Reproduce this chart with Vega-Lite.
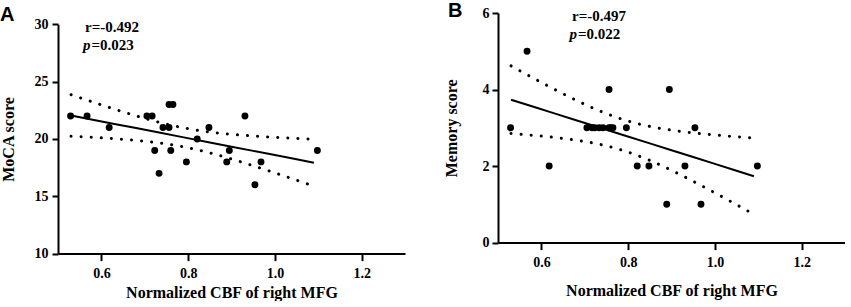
{
  "$schema": "https://vega.github.io/schema/vega-lite/v6.json",
  "background": "white",
  "padding": {"left": 0, "top": 0, "right": 0, "bottom": 0},
  "config": {
    "view": {"stroke": null},
    "axis": {
      "domainColor": "black", "domainWidth": 2, "tickColor": "black", "tickWidth": 2,
      "labelFont": "Liberation Serif", "labelFontWeight": "bold", "labelFontSize": 14, "labelColor": "black",
      "titleFont": "Liberation Serif", "titleFontWeight": "bold", "titleFontSize": 16, "titleColor": "black",
      "grid": false, "labelFlush": false
    },
    "axisX": {"tickSize": 7, "labelPadding": 6},
    "axisY": {"tickSize": 6, "labelPadding": 4, "titlePadding": 18}
  },
  "datasets": {
    "pts": [
      {"cbf": 0.529, "moca": 22, "memory": 3},
      {"cbf": 0.567, "moca": 22, "memory": 5},
      {"cbf": 0.618, "moca": 21, "memory": 2},
      {"cbf": 0.705, "moca": 22, "memory": 3},
      {"cbf": 0.717, "moca": 22, "memory": 3},
      {"cbf": 0.723, "moca": 19, "memory": 3},
      {"cbf": 0.733, "moca": 17, "memory": 3},
      {"cbf": 0.742, "moca": 21, "memory": 3},
      {"cbf": 0.756, "moca": 21, "memory": 4},
      {"cbf": 0.756, "moca": 23, "memory": 3},
      {"cbf": 0.765, "moca": 23, "memory": 3},
      {"cbf": 0.76, "moca": 19, "memory": 3},
      {"cbf": 0.796, "moca": 18, "memory": 3},
      {"cbf": 0.821, "moca": 20, "memory": 2},
      {"cbf": 0.848, "moca": 21, "memory": 2},
      {"cbf": 0.889, "moca": 18, "memory": 1},
      {"cbf": 0.895, "moca": 19, "memory": 4},
      {"cbf": 0.931, "moca": 22, "memory": 2},
      {"cbf": 0.954, "moca": 16, "memory": 3},
      {"cbf": 0.968, "moca": 18, "memory": 1},
      {"cbf": 1.098, "moca": 19, "memory": 2}
    ],
    "band": [
      {"cbf": 0.53, "mocaFit": 22.049, "mocaLo": 20.238, "mocaHi": 23.860, "memFit": 3.735, "memLo": 2.852, "memHi": 4.618},
      {"cbf": 0.58, "mocaFit": 21.681, "mocaLo": 20.140, "mocaHi": 23.222, "memFit": 3.556, "memLo": 2.804, "memHi": 4.308},
      {"cbf": 0.63, "mocaFit": 21.313, "mocaLo": 20.023, "mocaHi": 22.603, "memFit": 3.378, "memLo": 2.749, "memHi": 4.007},
      {"cbf": 0.68, "mocaFit": 20.946, "mocaLo": 19.876, "mocaHi": 22.016, "memFit": 3.199, "memLo": 2.677, "memHi": 3.721},
      {"cbf": 0.73, "mocaFit": 20.578, "mocaLo": 19.672, "mocaHi": 21.484, "memFit": 3.021, "memLo": 2.579, "memHi": 3.463},
      {"cbf": 0.79, "mocaFit": 20.136, "mocaLo": 19.308, "mocaHi": 20.964, "memFit": 2.806, "memLo": 2.402, "memHi": 3.210},
      {"cbf": 0.85, "mocaFit": 19.695, "mocaLo": 18.785, "mocaHi": 20.605, "memFit": 2.592, "memLo": 2.148, "memHi": 3.036},
      {"cbf": 0.90, "mocaFit": 19.327, "mocaLo": 18.250, "mocaHi": 20.404, "memFit": 2.414, "memLo": 1.889, "memHi": 2.939},
      {"cbf": 0.95, "mocaFit": 18.959, "mocaLo": 17.661, "mocaHi": 20.258, "memFit": 2.235, "memLo": 1.602, "memHi": 2.868},
      {"cbf": 1.00, "mocaFit": 18.592, "mocaLo": 17.041, "mocaHi": 20.143, "memFit": 2.057, "memLo": 1.301, "memHi": 2.813},
      {"cbf": 1.05, "mocaFit": 18.224, "mocaLo": 16.403, "mocaHi": 20.045, "memFit": 1.878, "memLo": 0.990, "memHi": 2.766},
      {"cbf": 1.09, "mocaFit": 17.930, "mocaLo": 15.884, "mocaHi": 19.975, "memFit": 1.735, "memLo": 0.737, "memHi": 2.733}
    ],
    "notes": [
      {"panel": "A", "cbf": 0.5623, "val": 29.74, "t": "r=-0.492", "kind": "r"},
      {"panel": "A", "cbf": 0.5577, "val": 28.17, "t": "p", "kind": "p"},
      {"panel": "A", "cbf": 0.5577, "val": 28.17, "t": "=0.023", "kind": "pv"},
      {"panel": "B", "cbf": 0.6707, "val": 5.914, "t": "r=-0.497", "kind": "r"},
      {"panel": "B", "cbf": 0.665, "val": 5.443, "t": "p", "kind": "p"},
      {"panel": "B", "cbf": 0.665, "val": 5.443, "t": "=0.022", "kind": "pv"}
    ]
  },
  "bounds": "flush",
  "spacing": 93,
  "hconcat": [
    {
      "width": 347,
      "height": 240.6,
      "title": {"text": "A", "anchor": "start", "frame": "group", "font": "Liberation Sans", "fontSize": 20, "fontWeight": "bold", "color": "black", "offset": 0, "dx": -58, "dy": 28, "baseline": "alphabetic"},
      "layer": [
        {
          "data": {"name": "pts"},
          "mark": {"type": "circle", "size": 48, "color": "black", "opacity": 1},
          "encoding": {
            "x": {"field": "cbf", "type": "quantitative", "scale": {"domain": [0.5, 1.3], "nice": false, "zero": false},
                  "axis": {"values": [0.6, 0.8, 1.0, 1.2], "format": ".1f", "title": "Normalized CBF of right MFG", "titlePadding": 4}},
            "y": {"field": "moca", "type": "quantitative", "scale": {"domain": [10, 30], "range": [240.6, 11.3], "nice": false, "zero": false},
                  "axis": {"values": [10, 15, 20, 25, 30], "title": "MoCA score"}}
          }
        },
        {
          "data": {"name": "band"},
          "mark": {"type": "line", "color": "black", "strokeWidth": 2},
          "encoding": {"x": {"field": "cbf", "type": "quantitative"}, "y": {"field": "mocaFit", "type": "quantitative"}}
        },
        {
          "data": {"name": "band"},
          "mark": {"type": "line", "color": "black", "strokeWidth": 3, "strokeCap": "round", "strokeDash": [0.1, 10], "interpolate": "monotone"},
          "encoding": {"x": {"field": "cbf", "type": "quantitative"}, "y": {"field": "mocaLo", "type": "quantitative"}}
        },
        {
          "data": {"name": "band"},
          "mark": {"type": "line", "color": "black", "strokeWidth": 3, "strokeCap": "round", "strokeDash": [0.1, 10], "interpolate": "monotone"},
          "encoding": {"x": {"field": "cbf", "type": "quantitative"}, "y": {"field": "mocaHi", "type": "quantitative"}}
        },
        {
          "data": {"name": "notes"},
          "transform": [{"filter": "datum.panel == 'A' && datum.kind == 'r'"}],
          "mark": {"type": "text", "font": "Liberation Serif", "fontSize": 15, "fontWeight": "bold", "align": "left", "baseline": "middle", "color": "black"},
          "encoding": {"x": {"field": "cbf", "type": "quantitative"}, "y": {"field": "val", "type": "quantitative"}, "text": {"field": "t"}}
        },
        {
          "data": {"name": "notes"},
          "transform": [{"filter": "datum.panel == 'A' && datum.kind == 'p'"}],
          "mark": {"type": "text", "font": "Liberation Serif", "fontSize": 15, "fontWeight": "bold", "fontStyle": "italic", "align": "left", "baseline": "middle", "color": "black"},
          "encoding": {"x": {"field": "cbf", "type": "quantitative"}, "y": {"field": "val", "type": "quantitative"}, "text": {"field": "t"}}
        },
        {
          "data": {"name": "notes"},
          "transform": [{"filter": "datum.panel == 'A' && datum.kind == 'pv'"}],
          "mark": {"type": "text", "font": "Liberation Serif", "fontSize": 15, "fontWeight": "bold", "align": "left", "baseline": "middle", "color": "black", "dx": 8.5},
          "encoding": {"x": {"field": "cbf", "type": "quantitative"}, "y": {"field": "val", "type": "quantitative"}, "text": {"field": "t"}}
        }
      ]
    },
    {
      "width": 347,
      "height": 229.6,
      "title": {"text": "B", "anchor": "start", "frame": "group", "font": "Liberation Sans", "fontSize": 20, "fontWeight": "bold", "color": "black", "offset": 0, "dx": -50, "dy": 30.6, "baseline": "alphabetic"},
      "layer": [
        {
          "data": {"name": "pts"},
          "mark": {"type": "circle", "size": 48, "color": "black", "opacity": 1},
          "encoding": {
            "x": {"field": "cbf", "type": "quantitative", "scale": {"domain": [0.5, 1.3], "nice": false, "zero": false},
                  "axis": {"values": [0.6, 0.8, 1.0, 1.2], "format": ".1f", "title": "Normalized CBF of right MFG", "titlePadding": 13}},
            "y": {"field": "memory", "type": "quantitative", "scale": {"domain": [0, 6], "nice": false, "zero": false},
                  "axis": {"values": [0, 2, 4, 6], "title": "Memory score", "labelPadding": 3, "titlePadding": 23}}
          }
        },
        {
          "data": {"name": "band"},
          "mark": {"type": "line", "color": "black", "strokeWidth": 2},
          "encoding": {"x": {"field": "cbf", "type": "quantitative"}, "y": {"field": "memFit", "type": "quantitative"}}
        },
        {
          "data": {"name": "band"},
          "mark": {"type": "line", "color": "black", "strokeWidth": 3, "strokeCap": "round", "strokeDash": [0.1, 10], "interpolate": "monotone"},
          "encoding": {"x": {"field": "cbf", "type": "quantitative"}, "y": {"field": "memLo", "type": "quantitative"}}
        },
        {
          "data": {"name": "band"},
          "mark": {"type": "line", "color": "black", "strokeWidth": 3, "strokeCap": "round", "strokeDash": [0.1, 10], "interpolate": "monotone"},
          "encoding": {"x": {"field": "cbf", "type": "quantitative"}, "y": {"field": "memHi", "type": "quantitative"}}
        },
        {
          "data": {"name": "notes"},
          "transform": [{"filter": "datum.panel == 'B' && datum.kind == 'r'"}],
          "mark": {"type": "text", "font": "Liberation Serif", "fontSize": 15, "fontWeight": "bold", "align": "left", "baseline": "middle", "color": "black"},
          "encoding": {"x": {"field": "cbf", "type": "quantitative"}, "y": {"field": "val", "type": "quantitative"}, "text": {"field": "t"}}
        },
        {
          "data": {"name": "notes"},
          "transform": [{"filter": "datum.panel == 'B' && datum.kind == 'p'"}],
          "mark": {"type": "text", "font": "Liberation Serif", "fontSize": 15, "fontWeight": "bold", "fontStyle": "italic", "align": "left", "baseline": "middle", "color": "black"},
          "encoding": {"x": {"field": "cbf", "type": "quantitative"}, "y": {"field": "val", "type": "quantitative"}, "text": {"field": "t"}}
        },
        {
          "data": {"name": "notes"},
          "transform": [{"filter": "datum.panel == 'B' && datum.kind == 'pv'"}],
          "mark": {"type": "text", "font": "Liberation Serif", "fontSize": 15, "fontWeight": "bold", "align": "left", "baseline": "middle", "color": "black", "dx": 8.5},
          "encoding": {"x": {"field": "cbf", "type": "quantitative"}, "y": {"field": "val", "type": "quantitative"}, "text": {"field": "t"}}
        }
      ]
    }
  ]
}
